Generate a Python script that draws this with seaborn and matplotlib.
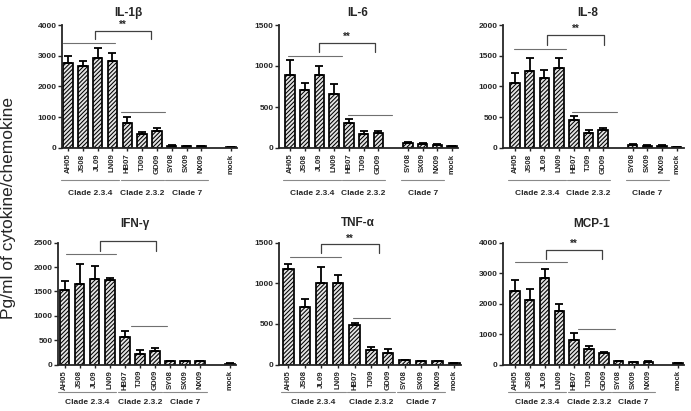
import numpy as np
import pandas as pd
import matplotlib
matplotlib.use("Agg")
import matplotlib.pyplot as plt
import matplotlib.transforms as mtransforms
import seaborn as sns

# ---------------- data ----------------
strains = ["AH05", "JS08", "JL09", "LN09", "HB07", "TJ09", "GD09",
           "SY08", "SX09", "NX09", "mock"]
clades = ["Clade 2.3.4", "Clade 2.3.2", "Clade 7"]
clade_members = [["AH05", "JS08", "JL09", "LN09"],
                 ["HB07", "TJ09", "GD09"],
                 ["SY08", "SX09", "NX09"]]

titles = ["IL-1β", "IL-6", "IL-8", "IFN-γ", "TNF-α", "MCP-1"]

il1b_mean = [2780, 2670, 2920, 2830, 820, 465, 540, 65, 55, 55, 30]
il1b_err = [210, 155, 320, 245, 190, 55, 110, 40, 20, 15, 10]
il6_mean = [890, 705, 890, 660, 300, 175, 188, 62, 50, 42, 20]
il6_err = [180, 90, 110, 120, 48, 28, 20, 12, 8, 8, 4]
il8_mean = [1065, 1250, 1140, 1305, 458, 240, 292, 52, 38, 38, 10]
il8_err = [160, 220, 125, 165, 60, 55, 35, 14, 10, 10, 4]
ifng_mean = [1525, 1645, 1765, 1735, 570, 225, 275, 70, 62, 68, 20]
ifng_err = [185, 410, 255, 50, 115, 82, 55, 8, 8, 8, 5]
tnfa_mean = [1170, 708, 1005, 1005, 482, 182, 140, 50, 38, 38, 16]
tnfa_err = [62, 95, 198, 95, 33, 32, 45, 8, 6, 6, 4]
mcp1_mean = [2410, 2115, 2825, 1755, 800, 505, 362, 100, 78, 88, 33]
mcp1_err = [360, 360, 305, 230, 220, 100, 55, 30, 10, 12, 5]

means = [il1b_mean, il6_mean, il8_mean, ifng_mean, tnfa_mean, mcp1_mean]
errs = [il1b_err, il6_err, il8_err, ifng_err, tnfa_err, mcp1_err]

y_max = [4000, 1500, 2000, 2500, 1500, 4000]
y_step = [1000, 500, 500, 500, 500, 1000]

# significance annotation heights: line over 2.3.4, bracket top, bracket foot, line over 2.3.2
sig_line1 = [3420, 1125, 1610, 2260, 1318, 3350]
sig_top = [3815, 1285, 1840, 2535, 1483, 3760]
sig_foot = [3530, 1165, 1675, 2330, 1368, 3460]
sig_line2 = [1170, 400, 585, 790, 577, 1160]
sig_label = "**"

ylabel = "Pg/ml of cytokine/chemokine"

# ---------------- layout ----------------
GAP1 = " "
orders = [
    strains[:10] + [GAP1] + ["mock"],
    strains[:7] + [GAP1] + strains[7:],
    strains[:7] + [GAP1] + strains[7:],
    strains[:10] + [GAP1] + ["mock"],
    strains,
    strains[:10] + [GAP1] + ["mock"],
]
xlims = [(-0.4, 11.4), (-0.72, 11.4), (-0.8, 11.5),
         (-0.44, 11.4), (-0.54, 10.4), (-0.78, 11.4)]
W, H = 691, 411
boxes_px = [  # left, top, right, bottom in pixels
    (62, 25, 237, 148), (279.3, 25, 458, 148), (503.3, 25, 684, 148),
    (58, 242.7, 236, 364.5), (279.3, 242.7, 461, 364.5), (503.3, 242.7, 684, 364.5),
]
title_pos = [(0.377, 1.1), (0.438, 1.1), (0.469, 1.1),
             (0.43, 1.15), (0.43, 1.16), (0.49, 1.15)]
clade_line_y = [-0.26] * 3 + [-0.226] * 3
clade_text_y = [-0.366] * 3 + [-0.316] * 3
line1_x = [(-0.3, 3.2), (-0.1, 3.5), (-0.1, 3.45), (0.1, 3.45), (0.1, 3.2), (0.0, 3.5)]
brk_x = [(1.85, 5.6), (2.0, 5.75), (2.2, 6.05), (2.33, 6.1), (2.0, 5.45), (2.08, 5.9)]
line2_x = [(3.55, 6.55), (3.95, 6.9), (3.9, 6.95), (4.4, 6.8), (3.9, 6.1), (4.25, 6.75)]

sns.set_theme(style="ticks")
plt.rcParams["font.family"] = ["Liberation Sans", "DejaVu Sans"]
plt.rcParams["hatch.color"] = "#333333"
plt.rcParams["hatch.linewidth"] = 0.75

fig = plt.figure(figsize=(W / 100, H / 100), dpi=100)

for k in range(6):
    l, t, r, b = boxes_px[k]
    ax = fig.add_axes([l / W, 1 - b / H, (r - l) / W, (b - t) / H])
    df = pd.DataFrame({"strain": strains, "value": means[k]})
    order = orders[k]
    sns.barplot(data=df, x="strain", y="value", order=order, ax=ax,
                color="#e4e4e4", edgecolor="black", linewidth=1.25,
                hatch="////////", width=0.64, errorbar=None, saturation=1)
    pos = {name: i for i, name in enumerate(order)}
    xs = [pos[s] for s in strains]
    ax.errorbar(xs, means[k], yerr=[np.zeros(len(strains)), errs[k]],
                fmt="none", ecolor="black", elinewidth=1.3, capsize=3.2,
                capthick=1.3, zorder=1)
    ax.set_xlim(*xlims[k])
    ax.set_ylim(0, y_max[k])
    ax.set_yticks(np.arange(0, y_max[k] + 1, y_step[k]))
    ax.set_xticks(xs)
    ax.set_xticklabels(strains, rotation=90, fontsize=5.6, fontweight="bold")
    for lab in ax.get_yticklabels():
        lab.set_fontweight("bold")
        lab.set_fontsize(6)
    ax.tick_params(axis="y", length=3, width=1, pad=1)
    ax.tick_params(axis="x", length=2.5, width=1, pad=1.5)
    ax.set_xlabel("")
    ax.set_ylabel("")
    sns.despine(ax=ax)
    for sp in ("left", "bottom"):
        ax.spines[sp].set_linewidth(1.3)

    ax.text(title_pos[k][0], title_pos[k][1], titles[k], transform=ax.transAxes,
            ha="center", va="center", fontsize=8.5, fontweight="bold")

    # clade groupings under the tick labels
    trans = mtransforms.blended_transform_factory(ax.transData, ax.transAxes)
    for cname, members in zip(clades, clade_members):
        x0 = pos[members[0]] - 0.45
        x1 = pos[members[-1]] + 0.45
        ax.plot([x0, x1], [clade_line_y[k]] * 2, color="#8a8a8a", lw=0.8,
                transform=trans, clip_on=False)
        ax.text((x0 + x1) / 2, clade_text_y[k], cname, transform=trans,
                ha="center", va="center", fontsize=6, fontweight="bold")

    # significance annotations
    ax.plot(line1_x[k], [sig_line1[k]] * 2, color="#707070", lw=0.8, clip_on=False)
    ax.plot(line2_x[k], [sig_line2[k]] * 2, color="#707070", lw=0.8, clip_on=False)
    bx0, bx1 = brk_x[k]
    ax.plot([bx0, bx0, bx1, bx1], [sig_foot[k], sig_top[k], sig_top[k], sig_foot[k]],
            color="#404040", lw=0.9, clip_on=False)
    ax.annotate(sig_label, xy=((bx0 + bx1) / 2, sig_top[k]), xytext=(0, 0.5),
                textcoords="offset points", ha="center", va="bottom",
                fontsize=7, fontweight="bold")

fig.text(0.013, 0.494, ylabel, rotation=90, ha="center", va="center", fontsize=12.5)

fig.savefig("out.png", dpi=100)
